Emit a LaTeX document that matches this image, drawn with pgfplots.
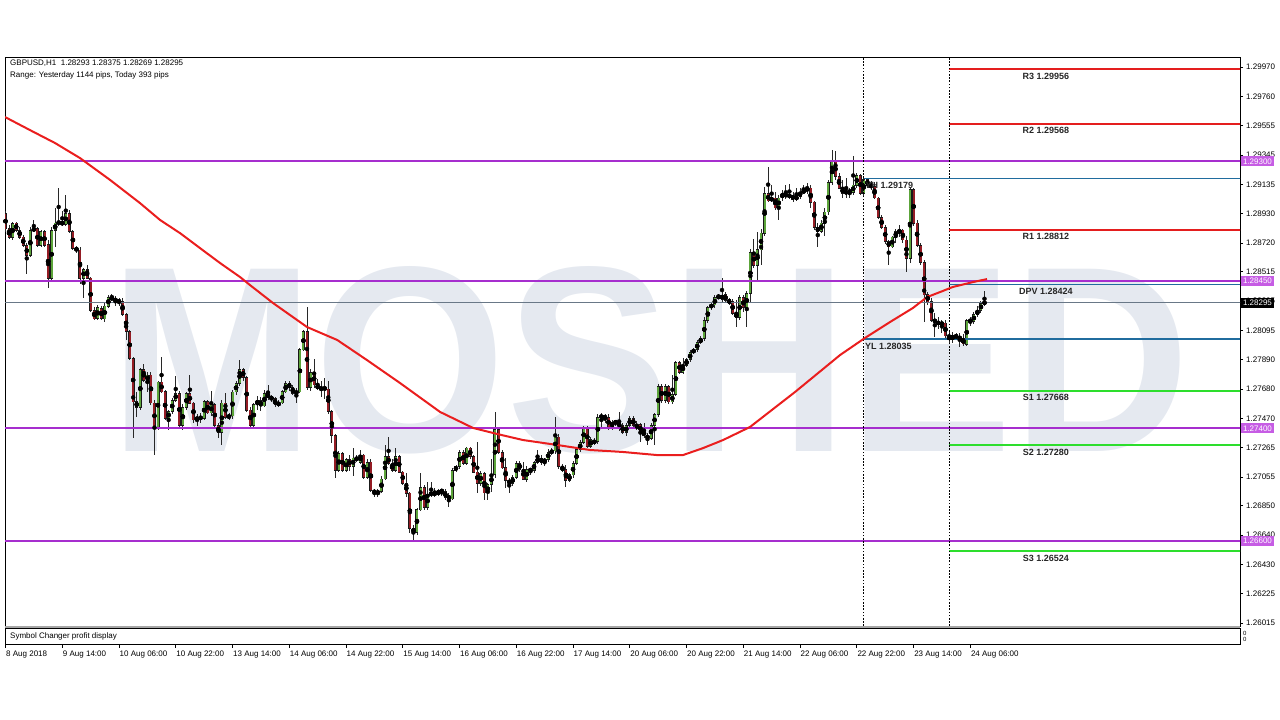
\documentclass[border=0pt]{standalone}
\usepackage{fontspec}
\setmainfont{Liberation Sans}
\usepackage{graphicx}
\usepackage{pgfplots}
\usepackage{pgfplotstable}
\pgfplotsset{compat=1.18}

\definecolor{bull}{RGB}{92,164,58}
\definecolor{bear}{RGB}{148,28,36}
\definecolor{wick}{RGB}{40,40,40}
\definecolor{maline}{RGB}{234,30,30}
\definecolor{piv}{RGB}{228,30,30}
\definecolor{sup}{RGB}{45,222,45}
\definecolor{lvl}{RGB}{166,46,206}
\definecolor{lvlbox}{RGB}{198,92,228}
\definecolor{yhl}{RGB}{32,108,158}
\definecolor{bid}{RGB}{105,120,135}
\definecolor{wm}{RGB}{229,233,240}

% GBPUSD H1 bars: index, open, high, low, close
\pgfplotstableread{
i o h l c
0 1.2893 1.2895 1.2880 1.2882
1 1.2882 1.2885 1.2875 1.2876
2 1.2876 1.2887 1.2874 1.2886
3 1.2886 1.2887 1.2880 1.2881
4 1.2881 1.2883 1.2875 1.2876
5 1.2876 1.2878 1.2869 1.2870
6 1.2870 1.2872 1.2850 1.2863
7 1.2863 1.2883 1.2862 1.2881
8 1.2881 1.2888 1.2880 1.2882
9 1.2882 1.2883 1.2869 1.2870
10 1.2870 1.2881 1.2869 1.2880
11 1.2880 1.2881 1.2869 1.2870
12 1.2871 1.2874 1.2840 1.2847
13 1.2847 1.2883 1.2845 1.2881
14 1.2881 1.2897 1.2869 1.2886
15 1.2886 1.2911 1.2884 1.2887
16 1.2887 1.2895 1.2884 1.2885
17 1.2885 1.2906 1.2884 1.2893
18 1.2893 1.2895 1.2879 1.2880
19 1.2880 1.2881 1.2867 1.2868
20 1.2868 1.2870 1.2865 1.2867
21 1.2867 1.2869 1.2843 1.2847
22 1.2847 1.2854 1.2833 1.2853
23 1.2853 1.2856 1.2846 1.2847
24 1.2847 1.2848 1.2823 1.2824
25 1.2824 1.2826 1.2817 1.2818
26 1.2818 1.2828 1.2817 1.2826
27 1.2825 1.2827 1.2817 1.2818
28 1.2818 1.2829 1.2816 1.2827
29 1.2827 1.2835 1.2826 1.2833
30 1.2833 1.2836 1.2831 1.2832
31 1.2832 1.2834 1.2827 1.2831
32 1.2831 1.2833 1.2827 1.2830
33 1.2830 1.2833 1.2820 1.2821
34 1.2821 1.2822 1.2803 1.2809
35 1.2809 1.2810 1.2789 1.2790
36 1.2790 1.2791 1.2733 1.2759
37 1.2759 1.2766 1.2748 1.2755
38 1.2755 1.2783 1.2753 1.2782
39 1.2782 1.2786 1.2773 1.2774
40 1.2774 1.2780 1.2766 1.2778
41 1.2778 1.2780 1.2757 1.2758
42 1.2758 1.2760 1.2721 1.2740
43 1.2740 1.2774 1.2739 1.2773
44 1.2773 1.2791 1.2765 1.2766
45 1.2766 1.2767 1.2746 1.2747
46 1.2747 1.2753 1.2739 1.2752
47 1.2752 1.2762 1.2750 1.2760
48 1.2760 1.2777 1.2759 1.2765
49 1.2765 1.2767 1.2740 1.2742
50 1.2742 1.2757 1.2739 1.2755
51 1.2755 1.2766 1.2753 1.2765
52 1.2765 1.2778 1.2757 1.2758
53 1.2758 1.2759 1.2744 1.2746
54 1.2746 1.2750 1.2742 1.2748
55 1.2748 1.2751 1.2744 1.2747
56 1.2747 1.2760 1.2746 1.2759
57 1.2759 1.2760 1.2750 1.2751
58 1.2751 1.2767 1.2749 1.2757
59 1.2757 1.2758 1.2741 1.2742
60 1.2742 1.2744 1.2733 1.2737
61 1.2737 1.2760 1.2728 1.2758
62 1.2758 1.2765 1.2747 1.2748
63 1.2748 1.2751 1.2746 1.2749
64 1.2749 1.2767 1.2747 1.2766
65 1.2766 1.2774 1.2764 1.2772
66 1.2772 1.2789 1.2770 1.2782
67 1.2782 1.2783 1.2774 1.2776
68 1.2776 1.2777 1.2752 1.2753
69 1.2753 1.2755 1.2741 1.2742
70 1.2742 1.2758 1.2741 1.2757
71 1.2757 1.2763 1.2753 1.2760
72 1.2760 1.2762 1.2752 1.2756
73 1.2756 1.2767 1.2755 1.2765
74 1.2765 1.2771 1.2760 1.2762
75 1.2762 1.2764 1.2759 1.2761
76 1.2761 1.2762 1.2755 1.2757
77 1.2757 1.2760 1.2755 1.2758
78 1.2758 1.2767 1.2757 1.2766
79 1.2766 1.2774 1.2765 1.2772
80 1.2772 1.2774 1.2767 1.2769
81 1.2769 1.2771 1.2764 1.2765
82 1.2765 1.2769 1.2758 1.2766
83 1.2766 1.2797 1.2765 1.2796
84 1.2796 1.2810 1.2795 1.2809
85 1.2809 1.2826 1.2767 1.2769
86 1.2769 1.2782 1.2767 1.2780
87 1.2780 1.2789 1.2769 1.2771
88 1.2771 1.2775 1.2767 1.2768
89 1.2768 1.2774 1.2762 1.2769
90 1.2769 1.2776 1.2761 1.2768
91 1.2768 1.2774 1.2750 1.2752
92 1.2752 1.2753 1.2730 1.2735
93 1.2735 1.2736 1.2705 1.2710
94 1.2710 1.2724 1.2709 1.2722
95 1.2722 1.2723 1.2709 1.2710
96 1.2710 1.2719 1.2709 1.2718
97 1.2718 1.2721 1.2710 1.2713
98 1.2713 1.2726 1.2706 1.2719
99 1.2719 1.2721 1.2716 1.2718
100 1.2716 1.2725 1.2715 1.2721
101 1.2721 1.2722 1.2704 1.2705
102 1.2705 1.2718 1.2704 1.2716
103 1.2716 1.2718 1.2695 1.2696
104 1.2696 1.2697 1.2691 1.2694
105 1.2694 1.2697 1.2691 1.2695
106 1.2695 1.2706 1.2694 1.2704
107 1.2704 1.2728 1.2703 1.2720
108 1.2720 1.2734 1.2714 1.2715
109 1.2715 1.2718 1.2709 1.2710
110 1.2710 1.2726 1.2709 1.2720
111 1.2720 1.2721 1.2708 1.2709
112 1.2709 1.2710 1.2700 1.2701
113 1.2701 1.2708 1.2691 1.2694
114 1.2694 1.2695 1.2666 1.2669
115 1.2669 1.2671 1.2661 1.2666
116 1.2666 1.2683 1.2664 1.2682
117 1.2682 1.2708 1.2681 1.2698
118 1.2698 1.2700 1.2682 1.2684
119 1.2684 1.2702 1.2682 1.2693
120 1.2693 1.2702 1.2691 1.2694
121 1.2694 1.2698 1.2691 1.2693
122 1.2693 1.2697 1.2692 1.2696
123 1.2696 1.2697 1.2692 1.2695
124 1.2695 1.2697 1.2689 1.2691
125 1.2692 1.2694 1.2684 1.2690
126 1.2690 1.2712 1.2689 1.2710
127 1.2710 1.2714 1.2709 1.2713
128 1.2713 1.2725 1.2711 1.2723
129 1.2723 1.2725 1.2714 1.2715
130 1.2715 1.2727 1.2714 1.2726
131 1.2726 1.2727 1.2718 1.2720
132 1.2720 1.2721 1.2708 1.2709
133 1.2709 1.2730 1.2694 1.2701
134 1.2701 1.2710 1.2699 1.2708
135 1.2708 1.2709 1.2689 1.2694
136 1.2694 1.2701 1.2689 1.2700
137 1.2700 1.2718 1.2695 1.2707
138 1.2707 1.2752 1.2705 1.2739
139 1.2739 1.2740 1.2722 1.2723
140 1.2723 1.2725 1.2711 1.2712
141 1.2712 1.2719 1.2698 1.2703
142 1.2703 1.2705 1.2694 1.2701
143 1.2701 1.2707 1.2699 1.2705
144 1.2705 1.2717 1.2704 1.2715
145 1.2715 1.2717 1.2709 1.2711
146 1.2711 1.2716 1.2703 1.2704
147 1.2704 1.2713 1.2702 1.2711
148 1.2711 1.2712 1.2707 1.2710
149 1.2710 1.2717 1.2708 1.2716
150 1.2716 1.2725 1.2715 1.2719
151 1.2719 1.2721 1.2714 1.2716
152 1.2716 1.2719 1.2713 1.2718
153 1.2718 1.2725 1.2716 1.2723
154 1.2723 1.2726 1.2721 1.2724
155 1.2724 1.2748 1.2722 1.2734
156 1.2734 1.2736 1.2711 1.2713
157 1.2713 1.2715 1.2709 1.2710
158 1.2711 1.2714 1.2698 1.2703
159 1.2703 1.2708 1.2702 1.2707
160 1.2707 1.2717 1.2705 1.2715
161 1.2715 1.2726 1.2714 1.2725
162 1.2725 1.2732 1.2723 1.2730
163 1.2730 1.2742 1.2729 1.2741
164 1.2741 1.2742 1.2726 1.2727
165 1.2727 1.2734 1.2726 1.2732
166 1.2730 1.2733 1.2728 1.2731
167 1.2731 1.2750 1.2729 1.2748
168 1.2748 1.2751 1.2741 1.2749
169 1.2749 1.2750 1.2744 1.2747
170 1.2748 1.2750 1.2739 1.2741
171 1.2741 1.2746 1.2739 1.2744
172 1.2744 1.2746 1.2742 1.2745
173 1.2745 1.2752 1.2738 1.2740
174 1.2742 1.2744 1.2736 1.2737
175 1.2737 1.2744 1.2735 1.2742
176 1.2742 1.2749 1.2741 1.2747
177 1.2747 1.2749 1.2741 1.2742
178 1.2740 1.2745 1.2739 1.2743
179 1.2743 1.2744 1.2730 1.2737
180 1.2738 1.2744 1.2733 1.2735
181 1.2735 1.2737 1.2728 1.2733
182 1.2733 1.2744 1.2732 1.2742
183 1.2742 1.2751 1.2728 1.2750
184 1.2750 1.2772 1.2748 1.2770
185 1.2770 1.2772 1.2758 1.2760
186 1.2760 1.2772 1.2758 1.2770
187 1.2770 1.2771 1.2757 1.2759
188 1.2759 1.2778 1.2757 1.2764
189 1.2764 1.2788 1.2763 1.2787
190 1.2787 1.2788 1.2779 1.2780
191 1.2780 1.2790 1.2779 1.2785
192 1.2785 1.2790 1.2784 1.2789
193 1.2789 1.2796 1.2787 1.2794
194 1.2794 1.2797 1.2793 1.2796
195 1.2796 1.2803 1.2794 1.2801
196 1.2801 1.2806 1.2800 1.2804
197 1.2804 1.2819 1.2802 1.2817
198 1.2817 1.2827 1.2815 1.2826
199 1.2826 1.2830 1.2824 1.2828
200 1.2828 1.2835 1.2826 1.2833
201 1.2833 1.2836 1.2832 1.2834
202 1.2832 1.2847 1.2830 1.2835
203 1.2835 1.2837 1.2829 1.2831
204 1.2832 1.2833 1.2828 1.2829
205 1.2830 1.2832 1.2821 1.2822
206 1.2822 1.2831 1.2812 1.2819
207 1.2819 1.2835 1.2817 1.2833
208 1.2833 1.2835 1.2823 1.2826
209 1.2826 1.2838 1.2812 1.2836
210 1.2836 1.2868 1.2829 1.2865
211 1.2865 1.2875 1.2854 1.2856
212 1.2856 1.2880 1.2846 1.2867
213 1.2867 1.2882 1.2856 1.2879
214 1.2879 1.2912 1.2877 1.2907
215 1.2907 1.2926 1.2901 1.2902
216 1.2902 1.2913 1.2901 1.2904
217 1.2904 1.2908 1.2895 1.2897
218 1.2897 1.2906 1.2888 1.2904
219 1.2904 1.2910 1.2902 1.2907
220 1.2907 1.2913 1.2903 1.2905
221 1.2905 1.2914 1.2903 1.2906
222 1.2906 1.2908 1.2901 1.2903
223 1.2903 1.2911 1.2902 1.2905
224 1.2905 1.2911 1.2903 1.2908
225 1.2908 1.2913 1.2907 1.2909
226 1.2909 1.2915 1.2907 1.2911
227 1.2911 1.2913 1.2897 1.2901
228 1.2901 1.2902 1.2881 1.2883
229 1.2883 1.2886 1.2869 1.2880
230 1.2880 1.2888 1.2879 1.2886
231 1.2886 1.2897 1.2877 1.2894
232 1.2894 1.2917 1.2892 1.2915
233 1.2915 1.2938 1.2913 1.2930
234 1.2930 1.2937 1.2917 1.2919
235 1.2919 1.2922 1.2910 1.2911
236 1.2911 1.2917 1.2904 1.2907
237 1.2907 1.2918 1.2904 1.2909
238 1.2909 1.2911 1.2904 1.2908
239 1.2908 1.2934 1.2906 1.2913
240 1.2913 1.2922 1.2911 1.2920
241 1.2920 1.2921 1.2906 1.2907
242 1.2907 1.29179 1.2905 1.2917
243 1.2917 1.2918 1.2911 1.2913
244 1.2913 1.2916 1.2910 1.2912
245 1.2912 1.2915 1.2903 1.2904
246 1.2904 1.2905 1.2889 1.2890
247 1.2890 1.2892 1.2882 1.2883
248 1.2883 1.2885 1.2871 1.2873
249 1.2873 1.2874 1.2856 1.2869
250 1.2869 1.2877 1.2868 1.2876
251 1.2876 1.2882 1.2872 1.2880
252 1.2879 1.2885 1.2876 1.2881
253 1.2881 1.2882 1.2872 1.2874
254 1.2874 1.2877 1.2851 1.2861
255 1.2861 1.2911 1.2858 1.2910
256 1.2910 1.2911 1.2884 1.2886
257 1.2886 1.2888 1.2869 1.2870
258 1.2870 1.2872 1.2856 1.2858
259 1.2858 1.2860 1.2816 1.2835
260 1.2835 1.2837 1.2828 1.2830
261 1.2830 1.2833 1.2816 1.2817
262 1.2817 1.2822 1.2805 1.2816
263 1.2816 1.2819 1.2811 1.2814
264 1.2814 1.2817 1.2808 1.2815
265 1.2815 1.2817 1.28035 1.28058
266 1.2806 1.2810 1.2801 1.2803
267 1.2803 1.2809 1.2801 1.2806
268 1.2806 1.2808 1.2803 1.2805
269 1.2805 1.2808 1.27982 1.2804
270 1.2804 1.2807 1.2799 1.2800
271 1.2800 1.2818 1.2799 1.2817
272 1.2817 1.2819 1.2813 1.2816
273 1.2816 1.2823 1.2814 1.2821
274 1.2821 1.2827 1.2819 1.2824
275 1.2824 1.2831 1.2822 1.2829
276 1.28293 1.28375 1.28269 1.28295
}\candles

\begin{document}
\begin{tikzpicture}
\useasboundingbox (0pt,0pt) rectangle (1280pt,720pt);

% watermark
\node[text=wm, inner sep=0pt, font=\fontsize{265}{265}\selectfont\bfseries] at (650pt,360pt) {\scalebox{0.93}[1]{MOSHED}};

\begin{axis}[
    at={(5pt,94pt)}, anchor=south west,
    width=1235pt, height=569pt, scale only axis,
    xmin=-0.14, xmax=348.04,
    ymin=1.25994, ymax=1.30042,
    xtick=\empty,
    ytick={1.26015,1.26225,1.26430,1.26640,1.26850,1.27055,1.27265,1.27470,1.27680,1.27890,1.28095,1.28305,1.28515,1.28720,1.28930,1.29135,1.29345,1.29555,1.29760,1.29970},
    yticklabels={1.26015,1.26225,1.26430,1.26640,1.26850,1.27055,1.27265,1.27470,1.27680,1.27890,1.28095,1.28305,1.28515,1.28720,1.28930,1.29135,1.29345,1.29555,1.29760,1.29970},
    ytick pos=right, yticklabel pos=right, ytick align=outside,
    major tick length=3pt,
    tick style={black, line width=0.6pt},
    yticklabel style={font=\fontsize{8}{9}\selectfont, anchor=west, inner sep=0pt, xshift=3pt},
    axis line style={black, line width=0.8pt},
]
% wicks
\addplot[only marks, mark=none, forget plot,
    error bars/.cd, y dir=both, y explicit, error mark=none,
    error bar style={draw=wick, line width=0.9pt}]
    table[x=i, y expr={(\thisrow{h}+\thisrow{l})/2}, y error expr={(\thisrow{h}-\thisrow{l})/2}] {\candles};
% body outline
\addplot[only marks, mark=none, forget plot,
    error bars/.cd, y dir=both, y explicit, error mark=none,
    error bar style={draw=black!90, line width=3pt}]
    table[x=i, y expr={(\thisrow{o}+\thisrow{c})/2}, y error expr={abs(\thisrow{c}-\thisrow{o})/2+0.00003}] {\candles};
% bull bodies
\addplot[only marks, mark=none, forget plot,
    error bars/.cd, y dir=both, y explicit, error mark=none,
    error bar style={draw=bull, line width=2pt}]
    table[x=i, y expr={(\thisrow{o}+\thisrow{c})/2}, y error expr={max((\thisrow{c}-\thisrow{o})/2-0.00002,0)}] {\candles};
% bear bodies
\addplot[only marks, mark=none, forget plot,
    error bars/.cd, y dir=both, y explicit, error mark=none,
    error bar style={draw=bear, line width=2pt}]
    table[x=i, y expr={(\thisrow{o}+\thisrow{c})/2}, y error expr={max((\thisrow{o}-\thisrow{c})/2-0.00002,0)}] {\candles};

% bid line
\addplot[bid, line width=0.8pt] coordinates {(-1,1.28295) (349,1.28295)};
% horizontal levels
\addplot[lvl, line width=2pt] coordinates {(-1,1.29300) (349,1.29300)};
\addplot[lvl, line width=2pt] coordinates {(-1,1.28450) (349,1.28450)};
\addplot[lvl, line width=2pt] coordinates {(-1,1.27400) (349,1.27400)};
\addplot[lvl, line width=2pt] coordinates {(-1,1.26600) (349,1.26600)};
% yesterday high / low, pivot
\addplot[yhl, line width=1.4pt] coordinates {(242,1.29179) (349,1.29179)};
\addplot[yhl, line width=1.4pt] coordinates {(242,1.28035) (349,1.28035)};
\addplot[yhl, line width=1.4pt] coordinates {(266,1.28424) (349,1.28424)};
% resistances and supports
\addplot[piv, line width=2pt] coordinates {(266,1.29956) (349,1.29956)};
\addplot[piv, line width=2pt] coordinates {(266,1.29568) (349,1.29568)};
\addplot[piv, line width=2pt] coordinates {(266,1.28812) (349,1.28812)};
\addplot[sup, line width=2pt] coordinates {(266,1.27668) (349,1.27668)};
\addplot[sup, line width=2pt] coordinates {(266,1.27280) (349,1.27280)};
\addplot[sup, line width=2pt] coordinates {(266,1.26524) (349,1.26524)};
% day separators
\addplot[black, line width=0.8pt, dash pattern=on 1.6pt off 1.6pt] coordinates {(242,1.25994) (242,1.30042)};
\addplot[black, line width=0.8pt, dash pattern=on 1.6pt off 1.6pt] coordinates {(266,1.25994) (266,1.30042)};

% moving average
\addplot[maline, line width=2pt, line join=round] coordinates {
(-0.14,1.29615) (6.9,1.29522) (13.96,1.29430) (21.0,1.29323) (29.5,1.29167)
(37.9,1.29003) (43.6,1.28882) (49.2,1.28789) (54.8,1.28683) (60.5,1.28576)
(66.1,1.28477) (68.9,1.28420) (75.4,1.28292) (85.0,1.28121) (93.5,1.28029)
(101.9,1.27886) (111.2,1.27723) (122.5,1.27517) (131.8,1.27403) (138.6,1.27360)
(145.9,1.27317) (155.5,1.27282) (164.8,1.27246) (174.1,1.27232) (183.7,1.27210)
(191.0,1.27210) (196.7,1.27260) (202.3,1.27317) (209.9,1.27410) (222.6,1.27659)
(235.3,1.27922) (242.3,1.28043) (249.4,1.28157) (255.8,1.28256) (259.8,1.28334)
(263.5,1.28370) (267.1,1.28406) (272.8,1.28441) (276.7,1.28462)};

\coordinate (tR3) at (axis cs:293.3,1.29956);
\coordinate (tR2) at (axis cs:293.3,1.29568);
\coordinate (tR1) at (axis cs:293.3,1.28812);
\coordinate (tPV) at (axis cs:293.3,1.28424);
\coordinate (tS1) at (axis cs:293.3,1.27668);
\coordinate (tS2) at (axis cs:293.3,1.27280);
\coordinate (tS3) at (axis cs:293.3,1.26524);
\coordinate (tYH) at (axis cs:242.4,1.29179);
\coordinate (tYL) at (axis cs:242.3,1.28035);

\coordinate (bA) at (axis cs:348.04,1.29300);
\coordinate (bB) at (axis cs:348.04,1.28450);
\coordinate (bC) at (axis cs:348.04,1.28295);
\coordinate (bD) at (axis cs:348.04,1.27400);
\coordinate (bE) at (axis cs:348.04,1.26600);
\end{axis}

% level texts
\begin{scope}[every node/.style={font=\fontsize{9}{10}\selectfont\bfseries, text=black!85, inner sep=0pt, yshift=-3.5pt}]
\node[anchor=north] at (tR3) {R3 1.29956};
\node[anchor=north] at (tR2) {R2 1.29568};
\node[anchor=north] at (tR1) {R1 1.28812};
\node[anchor=north] at (tPV) {DPV 1.28424};
\node[anchor=north] at (tS1) {S1 1.27668};
\node[anchor=north] at (tS2) {S2 1.27280};
\node[anchor=north] at (tS3) {S3 1.26524};
\node[anchor=north west] at (tYH) {YH 1.29179};
\node[anchor=north west] at (tYL) {YL 1.28035};
\end{scope}

% price labels on the scale
\tikzset{pl/.style={anchor=west, text=white, inner xsep=1.8pt, inner ysep=0pt, minimum height=10pt, font=\fontsize{8}{9}\selectfont}}
\node[pl, fill=lvlbox] at ([xshift=1pt]bA) {1.29300};
\node[pl, fill=lvlbox] at ([xshift=1pt]bB) {1.28450};
\node[pl, fill=black] at ([xshift=1pt]bC) {1.28295};
\node[pl, fill=lvlbox] at ([xshift=1pt]bD) {1.27400};
\node[pl, fill=lvlbox] at ([xshift=1pt]bE) {1.26600};

% splitter between windows
\draw[gray!70, line width=2pt] (5pt,93pt) -- (1240pt,93pt);

% indicator sub-window with the time axis
\begin{axis}[
    at={(5pt,76pt)}, anchor=south west,
    width=1235pt, height=16pt, scale only axis,
    xmin=-0.14, xmax=348.04, ymin=0, ymax=1,
    ytick=\empty,
    xtick={0,16,...,272},
    xticklabels={8 Aug 2018,9 Aug 14:00,10 Aug 06:00,10 Aug 22:00,13 Aug 14:00,14 Aug 06:00,14 Aug 22:00,15 Aug 14:00,16 Aug 06:00,16 Aug 22:00,17 Aug 14:00,20 Aug 06:00,20 Aug 22:00,21 Aug 14:00,22 Aug 06:00,22 Aug 22:00,23 Aug 14:00,24 Aug 06:00},
    xtick pos=bottom, xtick align=outside,
    major tick length=4pt,
    tick style={black, line width=0.6pt},
    xticklabel style={font=\fontsize{8}{9}\selectfont, anchor=north west, inner sep=0pt, xshift=0.5pt, yshift=-3pt},
    axis line style={black, line width=0.8pt},
]
\end{axis}

% texts
\begin{scope}[every node/.style={font=\fontsize{8}{9}\selectfont, inner sep=0pt, anchor=west}]
\node at (10pt,657pt) {GBPUSD,H1\ \ 1.28293 1.28375 1.28269 1.28295};
\node at (10pt,645pt) {Range: Yesterday 1144 pips, Today 393 pips};
\node at (10pt,84pt) {Symbol Changer profit display};
\node[font=\fontsize{6}{6}\selectfont] at (1243pt,87pt) {0};
\node[font=\fontsize{6}{6}\selectfont] at (1243pt,81pt) {0};
\end{scope}
\end{tikzpicture}
\end{document}
